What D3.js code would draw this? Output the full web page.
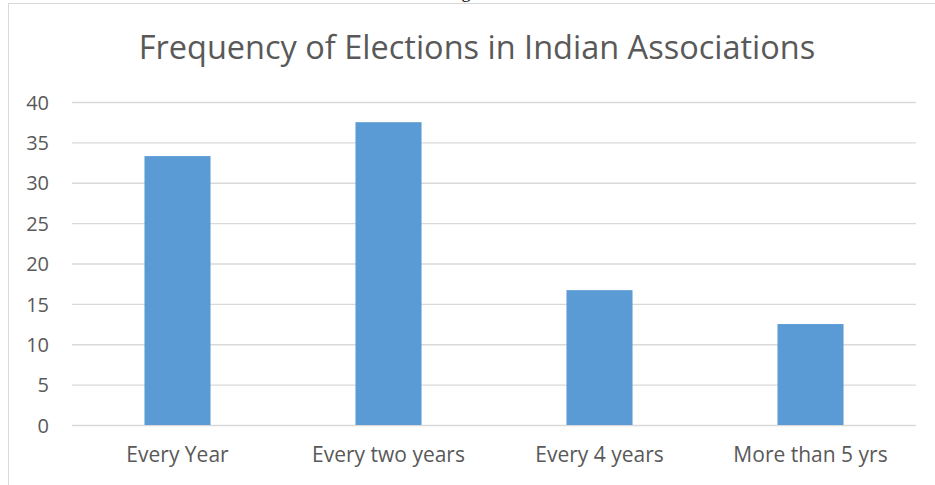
<!DOCTYPE html>
<html>
<head>
<meta charset="utf-8">
<script src="https://cdn.jsdelivr.net/npm/d3@7"></script>
<style>
  html, body { margin: 0; padding: 0; background: #fff; }
  svg { display: block; }
</style>
</head>
<body>
<svg id="chart" width="935" height="485"></svg>
<script>
// Share of associations by how often they hold elections (%)
const categories = ["Every Year", "Every two years", "Every 4 years", "More than 5 yrs"];
const values = [33.3, 37.5, 16.7, 12.5];
const yTicks = [0, 5, 10, 15, 20, 25, 30, 35, 40];
const title = "Frequency of Elections in Indian Associations";

const W = 935, H = 485;
const margin = { left: 72, right: 19, top: 102, bottom: 60 };
const textColor = "#595959";
const gridColor = "#d9d9d9";
const barColor = "#5b9bd5";
const font = "'Open Sans', sans-serif";

const svg = d3.select("#chart");

// descender of the surrounding document's text line, clipped by the page top
svg.append("text")
  .attr("x", 466).attr("y", -2)
  .attr("text-anchor", "middle")
  .attr("font-family", "'Liberation Serif', serif")
  .attr("font-size", 18)
  .attr("fill", "#000")
  .text("g");

// chart frame
svg.append("rect")
  .attr("x", 8.5).attr("y", 3.5)
  .attr("width", W + 10).attr("height", H + 10)
  .attr("fill", "none")
  .attr("stroke", gridColor)
  .attr("stroke-width", 1);

const x = d3.scaleBand()
  .domain(categories)
  .range([margin.left, W - margin.right])
  .paddingInner(0.687)
  .paddingOuter(0.3435);

const y = d3.scaleLinear()
  .domain([0, 40])
  .range([H - margin.bottom, margin.top]);

// horizontal gridlines with tick labels
const yAxis = d3.axisLeft(y)
  .tickValues(yTicks)
  .tickSize(-(W - margin.right - margin.left))
  .tickPadding(23);

const gy = svg.append("g")
  .attr("transform", `translate(${margin.left},0)`)
  .call(yAxis);
gy.select(".domain").remove();
gy.selectAll(".tick line").attr("stroke", gridColor).attr("stroke-width", 1.3);
gy.selectAll(".tick text")
  .attr("fill", textColor)
  .attr("font-family", font)
  .attr("font-size", 20)
  .attr("dy", "0.36em");

// bars
svg.append("g")
  .selectAll("rect")
  .data(values)
  .join("rect")
  .attr("x", (d, i) => x(categories[i]))
  .attr("y", d => y(d))
  .attr("width", x.bandwidth())
  .attr("height", d => y(0) - y(d))
  .attr("fill", barColor);

// category labels
const xAxis = d3.axisBottom(x).tickSize(0).tickPadding(22);
const gx = svg.append("g")
  .attr("transform", `translate(0,${y(0)})`)
  .call(xAxis);
gx.select(".domain").remove();
gx.selectAll(".tick text")
  .attr("fill", textColor)
  .attr("font-family", font)
  .attr("font-size", 21);

// title
svg.append("text")
  .attr("x", 477).attr("y", 59)
  .attr("text-anchor", "middle")
  .attr("font-family", font)
  .attr("font-size", 32.5)
  .attr("fill", textColor)
  .text(title);
</script>
</body>
</html>
